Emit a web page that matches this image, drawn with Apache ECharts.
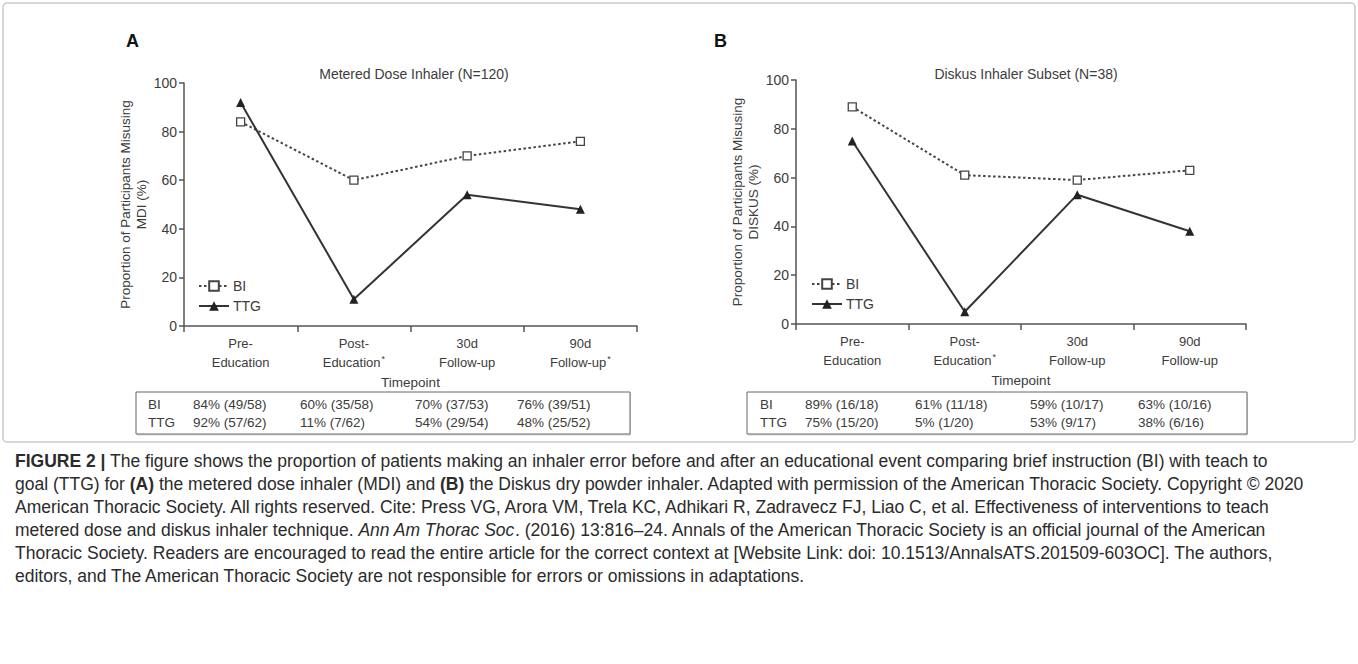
<!DOCTYPE html>
<html>
<head>
<meta charset="utf-8">
<script src="https://cdn.jsdelivr.net/npm/echarts/dist/echarts.min.js"></script>
<style>
html,body{margin:0;padding:0;background:#fff;}
#c{width:1358px;height:664px;}
</style>
</head>
<body>
<div id="c"></div>
<script>
// ---------------- data ----------------
const timepointsA = ['Pre-\nEducation', 'Post-\nEducation*', '30d\nFollow-up', '90d\nFollow-up*'];
const timepointsB = ['Pre-\nEducation', 'Post-\nEducation*', '30d\nFollow-up', '90d\nFollow-up'];
const mdiBI = [84, 60, 70, 76];
const mdiTTG = [92, 11, 54, 48];
const diskusBI = [89, 61, 59, 63];
const diskusTTG = [75, 5, 53, 38];
const yMin = 0, yMax = 100, yStep = 20;
const rowLabels = ['BI', 'TTG'];
const mdiTableBI = ['84% (49/58)', '60% (35/58)', '70% (37/53)', '76% (39/51)'];
const mdiTableTTG = ['92% (57/62)', '11% (7/62)', '54% (29/54)', '48% (25/52)'];
const diskusTableBI = ['89% (16/18)', '61% (11/18)', '59% (10/17)', '63% (10/16)'];
const diskusTableTTG = ['75% (15/20)', '5% (1/20)', '53% (9/17)', '38% (6/16)'];
const titleA = 'Metered Dose Inhaler (N=120)';
const titleB = 'Diskus Inhaler Subset (N=38)';
const yNameA = 'Proportion of Participants Misusing\nMDI (%)';
const yNameB = 'Proportion of Participants Misusing\nDISKUS (%)';
const captionLines = [
  '{b|FIGURE 2 |} The figure shows the proportion of patients making an inhaler error before and after an educational event comparing brief instruction (BI) with teach to',
  'goal (TTG) for {b|(A)} the metered dose inhaler (MDI) and {b|(B)} the Diskus dry powder inhaler. Adapted with permission of the American Thoracic Society. Copyright \u00a9 2020',
  'American Thoracic Society. All rights reserved. Cite: Press VG, Arora VM, Trela KC, Adhikari R, Zadravecz FJ, Liao C, et al. Effectiveness of interventions to teach',
  'metered dose and diskus inhaler technique. {i|Ann Am Thorac Soc}. (2016) 13:816\u201324. Annals of the American Thoracic Society is an official journal of the American',
  'Thoracic Society. Readers are encouraged to read the entire article for the correct context at [Website Link: doi: 10.1513/AnnalsATS.201509-603OC]. The authors,',
  'editors, and The American Thoracic Society are not responsible for errors or omissions in adaptations.'
];

// ---------------- styles ----------------
const FONT = "'Liberation Sans', Arial, sans-serif";
const AX = '#555';
const TXT = '#3c3c3c';
const CAP = 17.5;

const chart = echarts.init(document.getElementById('c'), null, {renderer: 'svg'});

function xAxisOf(gridIndex, cats) {
  return {
    type: 'category', gridIndex: gridIndex, data: cats, boundaryGap: true,
    name: 'Timepoint', nameLocation: 'middle', nameGap: 49,
    nameTextStyle: {fontFamily: FONT, fontSize: 13.5, color: TXT},
    axisLine: {lineStyle: {color: AX, width: 1.5}},
    axisTick: {show: true, length: 6, lineStyle: {color: AX, width: 1.5}},
    axisLabel: {
      fontFamily: FONT, fontSize: 13, lineHeight: 19, color: TXT, margin: 8, interval: 0,
      formatter: v => v.replace('*', '{s|*}'),
      rich: {s: {fontFamily: FONT, fontSize: 9, color: TXT, padding: [0, 0, 8, 1]}}
    },
    splitLine: {show: false}
  };
}
function yAxisOf(gridIndex, nm) {
  return {
    type: 'value', gridIndex: gridIndex, min: yMin, max: yMax, interval: yStep,
    name: nm, nameLocation: 'middle', nameRotate: 90, nameGap: 34,
    nameTextStyle: {fontFamily: FONT, fontSize: 13.5, lineHeight: 16, color: TXT, align: 'center'},
    axisLine: {show: true, lineStyle: {color: AX, width: 1.5}},
    axisTick: {show: true, length: 5, lineStyle: {color: AX, width: 1.5}},
    axisLabel: {fontFamily: FONT, fontSize: 14, color: TXT, margin: 7},
    splitLine: {show: false}
  };
}
function biSeries(idx, data) {
  return {
    name: 'BI', type: 'line', xAxisIndex: idx, yAxisIndex: idx, data: data,
    symbol: 'rect', symbolSize: 8,
    itemStyle: {color: '#fff', borderColor: '#444', borderWidth: 1.3},
    lineStyle: {color: '#444', width: 2, type: [2.5, 2.5]},
    emphasis: {disabled: true}, z: 3
  };
}
function ttgSeries(idx, data) {
  return {
    name: 'TTG', type: 'line', xAxisIndex: idx, yAxisIndex: idx, data: data,
    symbol: 'triangle', symbolSize: 9,
    itemStyle: {color: '#222'},
    lineStyle: {color: '#333', width: 2},
    emphasis: {disabled: true}, z: 4
  };
}
function legendOf(left, top) {
  return {
    left: left, top: top, orient: 'vertical', itemWidth: 30, itemHeight: 12, itemGap: 6,
    textStyle: {fontFamily: FONT, fontSize: 14, color: TXT, padding: [0, 0, 0, -1]},
    data: ['BI', 'TTG'], selectedMode: false
  };
}
function tableGraphic(x0, x1, y0, labelX, colX, rowsData) {
  const children = [];
  const rowH = 18;
  const h = 42;
  children.push({type: 'rect', shape: {x: x0 + 1, y: y0 + 1.5, width: x1 - x0, height: h}, style: {fill: '#d8d8d8', stroke: null}});
  children.push({type: 'rect', shape: {x: x0, y: y0, width: x1 - x0, height: h}, style: {fill: '#fff', stroke: '#666', lineWidth: 1}});
  rowsData.forEach((row, r) => {
    const y = y0 + 12.5 + r * rowH;
    children.push({type: 'text', style: {x: labelX, y: y, text: rowLabels[r], fontFamily: FONT, fontSize: 13.5, fill: TXT, verticalAlign: 'middle'}});
    row.forEach((cell, c) => {
      children.push({type: 'text', style: {x: colX[c], y: y, text: cell, fontFamily: FONT, fontSize: 13.5, fill: TXT, verticalAlign: 'middle'}});
    });
  });
  return {type: 'group', children: children};
}

const captionGraphic = captionLines.map((line, i) => ({
  type: 'text', left: 15, top: 452 + i * 23,
  style: {
    text: line, fontFamily: FONT, fontSize: CAP, fill: '#2b2b2b',
    rich: {
      b: {fontFamily: FONT, fontSize: CAP, fontWeight: 'bold', fill: '#2b2b2b'},
      i: {fontFamily: FONT, fontSize: CAP, fontStyle: 'italic', fill: '#2b2b2b'}
    }
  }
}));

const option = {
  animation: false,
  backgroundColor: '#fff',
  title: [
    {text: 'A', left: 121, top: 27, textStyle: {fontFamily: FONT, fontSize: 18, fontWeight: 'bold', color: '#111'}},
    {text: 'B', left: 709, top: 27, textStyle: {fontFamily: FONT, fontSize: 18, fontWeight: 'bold', color: '#111'}},
    {text: titleA, left: 409, top: 62, textAlign: 'center', textStyle: {fontFamily: FONT, fontSize: 14, fontWeight: 'normal', color: TXT}},
    {text: titleB, left: 1021, top: 62, textAlign: 'center', textStyle: {fontFamily: FONT, fontSize: 14, fontWeight: 'normal', color: TXT}}
  ],
  grid: [
    {left: 184, top: 83, width: 453, height: 243, containLabel: false},
    {left: 796, top: 80, width: 450, height: 244, containLabel: false}
  ],
  xAxis: [xAxisOf(0, timepointsA), xAxisOf(1, timepointsB)],
  yAxis: [yAxisOf(0, yNameA), yAxisOf(1, yNameB)],
  legend: [legendOf(193, 274), legendOf(806, 272)],
  series: [biSeries(0, mdiBI), ttgSeries(0, mdiTTG), biSeries(1, diskusBI), ttgSeries(1, diskusTTG)],
  graphic: [
    {type: 'rect', shape: {x: 3, y: 3, width: 1352, height: 439, r: 4}, style: {fill: null, stroke: '#c9c9c9', lineWidth: 1.5}, z: -1},
    tableGraphic(136, 630, 392, 148, [193, 300, 415, 517], [mdiTableBI, mdiTableTTG]),
    tableGraphic(747, 1247, 392, 760, [805, 915, 1030, 1138], [diskusTableBI, diskusTableTTG])
  ].concat(captionGraphic)
};
chart.setOption(option);
</script>
</body>
</html>
